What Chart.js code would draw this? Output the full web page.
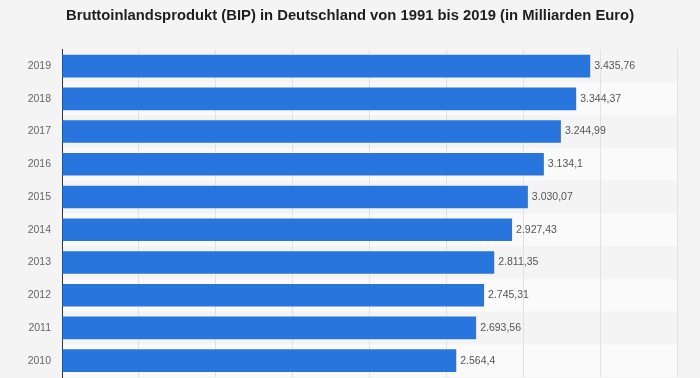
<!DOCTYPE html>
<html>
<head>
<meta charset="utf-8">
<script src="https://cdn.jsdelivr.net/npm/chart.js@4"></script>
<style>
  html, body { margin: 0; padding: 0; background: #f4f4f4; overflow: hidden; }
  #wrap { width: 700px; height: 378px; }
</style>
</head>
<body>
<div id="wrap"><canvas id="bipChart" width="700" height="378"></canvas></div>
<script>
'use strict';

const years = ['2019', '2018', '2017', '2016', '2015', '2014', '2013', '2012', '2011', '2010'];
const bipValues = [3435.76, 3344.37, 3244.99, 3134.1, 3030.07, 2927.43, 2811.35, 2745.31, 2693.56, 2564.4];
const xTicks = [0, 500, 1000, 1500, 2000, 2500, 3000, 3500, 4000];

// german number format: 3.435,76
function formatDe(v) {
  const parts = String(v).split('.');
  const int = parts[0].replace(/\B(?=(\d{3})+(?!\d))/g, '.');
  return parts[1] ? int + ',' + parts[1] : int;
}

// alternating row stripes behind the grid
const rowStripes = {
  id: 'rowStripes',
  beforeDraw(chart) {
    const ctx = chart.ctx;
    const area = chart.chartArea;
    const y = chart.scales.y;
    ctx.save();
    ctx.fillStyle = '#f4f4f4';
    ctx.fillRect(0, 0, chart.width, chart.height);
    const step = y.getPixelForValue(1) - y.getPixelForValue(0);
    for (let i = 0; i < years.length; i++) {
      if (i % 2 === 1) {
        const c = y.getPixelForValue(i);
        ctx.fillStyle = '#fafafa';
        ctx.fillRect(area.left, c - step / 2, area.right - area.left, step);
      }
    }
    ctx.restore();
  }
};

// value labels at the end of each bar
const valueLabels = {
  id: 'valueLabels',
  afterDatasetsDraw(chart) {
    const ctx = chart.ctx;
    const meta = chart.getDatasetMeta(0);
    ctx.save();
    ctx.font = '10.5px "Liberation Sans", Arial, sans-serif';
    ctx.fillStyle = '#555';
    ctx.textBaseline = 'middle';
    ctx.textAlign = 'left';
    meta.data.forEach(function (bar, i) {
      ctx.fillText(formatDe(bipValues[i]), bar.x + 4, bar.y);
    });
    ctx.restore();
  }
};

new Chart(document.getElementById('bipChart'), {
  type: 'bar',
  data: {
    labels: years,
    datasets: [{
      data: bipValues,
      backgroundColor: '#2876dd',
      borderWidth: 0,
      barPercentage: 0.69,
      categoryPercentage: 1
    }]
  },
  options: {
    indexAxis: 'y',
    responsive: false,
    animation: false,
    layout: { padding: { left: 23, right: 23, top: 0, bottom: 1 } },
    plugins: {
      legend: { display: false },
      tooltip: { enabled: false },
      title: {
        display: true,
        text: 'Bruttoinlandsprodukt (BIP) in Deutschland von 1991 bis 2019 (in Milliarden Euro)',
        color: '#1e1e1e',
        font: { family: '"Liberation Sans", Arial, sans-serif', size: 14.8, weight: 'bold' },
        padding: { top: 7, bottom: 25 }
      }
    },
    scales: {
      x: {
        min: 0,
        max: 4000,
        afterBuildTicks(scale) {
          scale.ticks = xTicks.map(v => ({ value: v }));
        },
        afterFit(scale) { scale.height = 0; },
        ticks: { display: false },
        grid: { color: '#e2e2e2', drawTicks: false },
        border: { display: false }
      },
      y: {
        afterFit(scale) {
          scale.width = 39;
          scale.paddingTop = 0;
          scale.paddingBottom = 0;
        },
        ticks: {
          color: '#666',
          padding: 11,
          font: { family: '"Liberation Sans", Arial, sans-serif', size: 10.5 }
        },
        grid: { display: false, drawTicks: false },
        border: { display: true, color: '#333', width: 1 }
      }
    }
  },
  plugins: [rowStripes, valueLabels]
});
</script>
</body>
</html>
